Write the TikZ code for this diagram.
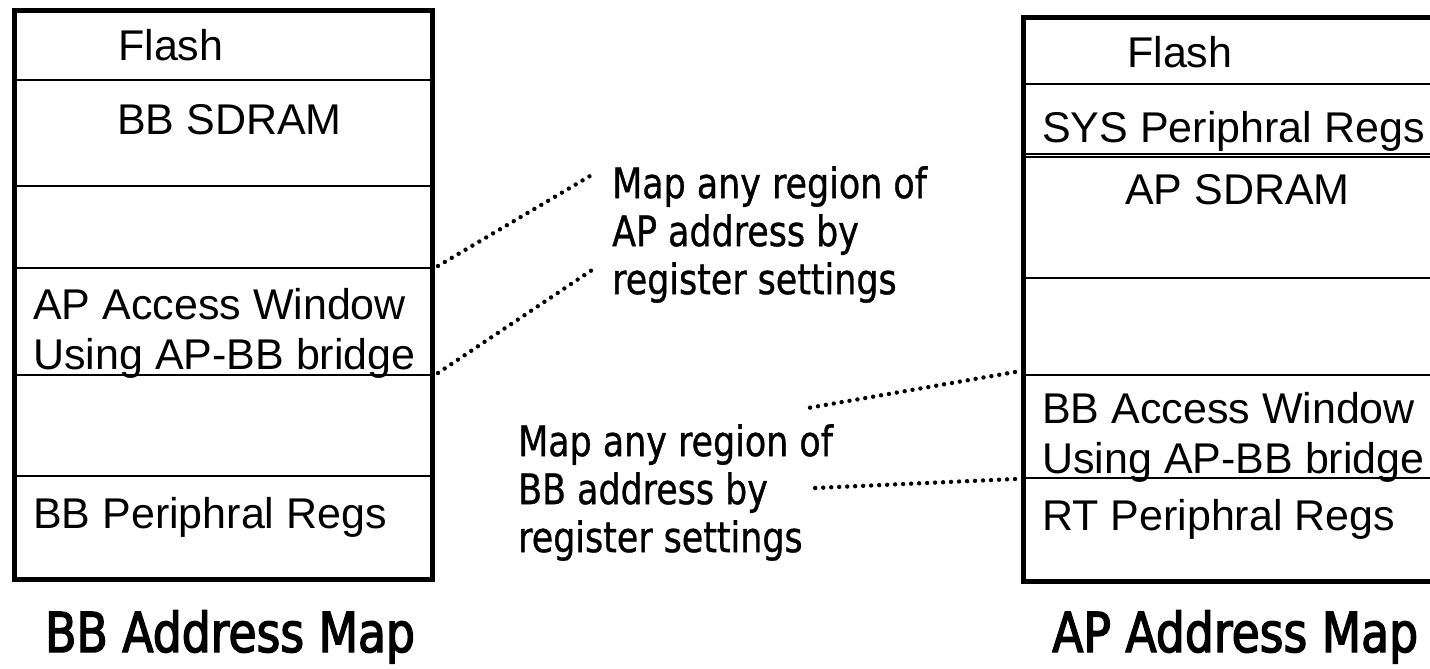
\documentclass[tikz,border=0pt]{standalone}
\usepackage{fontspec}
\setmainfont{Liberation Sans}
\newfontfamily\notefont[FakeStretch=0.83,FakeBold=0.8]{DejaVu Sans}
\newfontfamily\mapfont[FakeStretch=0.83,FakeBold=2.5]{DejaVu Sans}
\begin{document}
\begin{tikzpicture}[x=1pt,y=-1pt,
	frame/.style={line width=5pt},
	split/.style={line width=1.2pt},
	region/.style={anchor=base west, inner sep=0pt, font=\fontsize{43}{50}\selectfont},
	tworow/.style={anchor=north west, inner sep=0pt, align=left, font=\fontsize{43}{50}\selectfont},
	note/.style={anchor=north west, inner sep=0pt, align=left, font=\notefont\fontsize{42}{48}\selectfont},
	maptitle/.style={anchor=base west, inner sep=0pt, font=\mapfont\fontsize{55}{60}\selectfont},
	link/.style={line width=4.4pt, line cap=round, dash pattern=on 0pt off 8pt}]
	\useasboundingbox (0,0) rectangle (1430,669);
	% BB address map
	\draw[frame] (14.5,10.5) rectangle (432.5,579.5);
	\foreach \y in {80,186,268,375,476}
		\draw[split] (17,\y) -- (430,\y);
	\node[region] (bbflash) at (118,60) {Flash};
	\node[region] (bbsdram) at (117,134) {BB SDRAM};
	\node[tworow] (apwin) at (33,288) {AP Access Window\\Using AP-BB bridge};
	\node[region] (bbregs) at (33,528) {BB Periphral Regs};
	\node[maptitle] (bbmap) at (45,652) {BB Address Map};
	\coordinate (apwintop) at (438,266);
	\coordinate (apwinbot) at (438,373);
	% AP address map
	\draw[frame] (1023,18) rectangle (1450,581);
	\foreach \y in {84,157,278,375,478}
		\draw[split] (1026,\y) -- (1440,\y);
	\draw[split] (1026,154) -- (1440,154);
	\node[region] (apflash) at (1127,68) {Flash};
	\node[region] (sysregs) at (1042,142) {SYS Periphral Regs};
	\node[region] (apsdram) at (1125,204) {AP SDRAM};
	\node[tworow] (bbwin) at (1042,392) {BB Access Window\\Using AP-BB bridge};
	\node[region] (rtregs) at (1042,530) {RT Periphral Regs};
	\node[maptitle] (apmap) at (1052,652) {AP Address Map};
	\coordinate (bbwintop) at (1015,372);
	\coordinate (bbwinbot) at (1015,479);
	% callouts
	\node[note] (apnote) at (612,166) {Map any region of\\AP address by\\register settings};
	\node[note] (bbnote) at (518,424) {Map any region of\\BB address by\\register settings};
	\coordinate (apnotea) at (590,176);
	\coordinate (apnoteb) at (592,270);
	\coordinate (bbnotea) at (808,408);
	\coordinate (bbnoteb) at (815,488);
	\draw[link] (apwintop) -- (apnotea);
	\draw[link] (apwinbot) -- (apnoteb);
	\draw[link] (bbwintop) -- (bbnotea);
	\draw[link] (bbwinbot) -- (bbnoteb);
\end{tikzpicture}
\end{document}
